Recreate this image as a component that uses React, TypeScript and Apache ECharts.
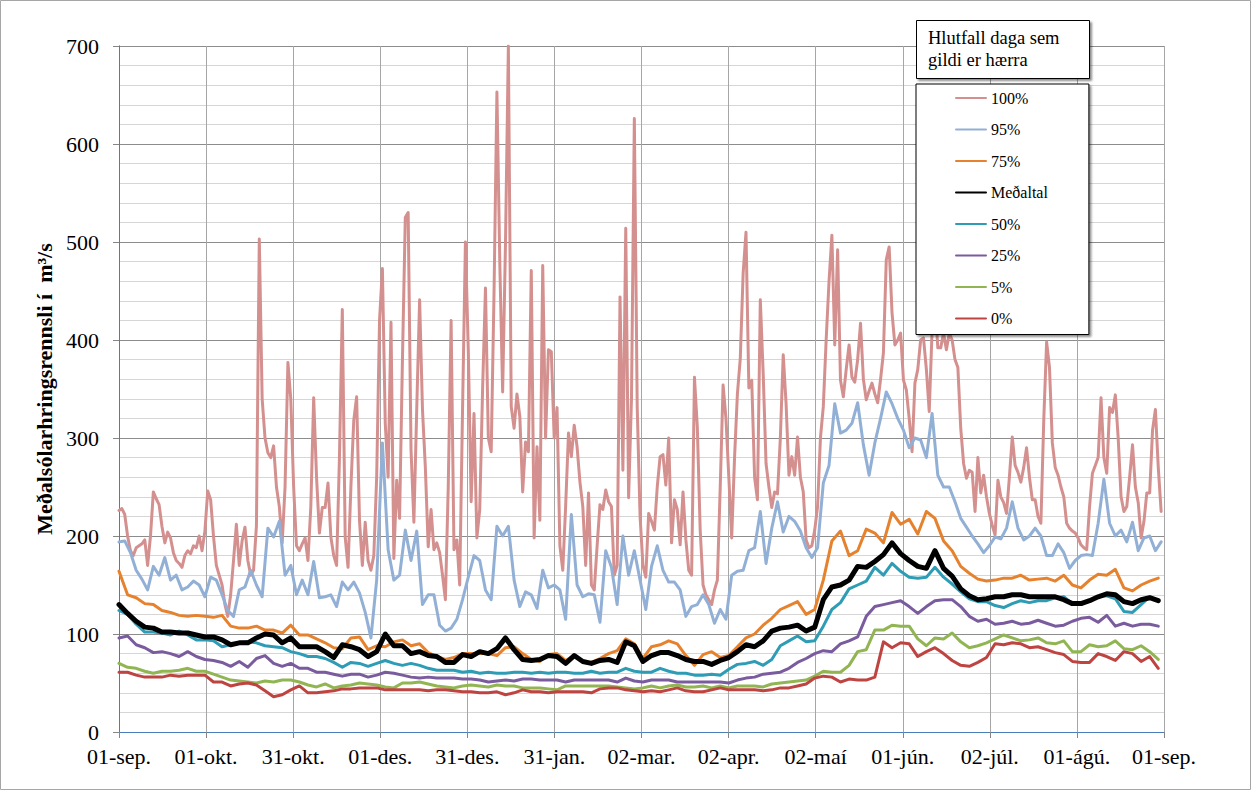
import React, { useEffect, useRef } from "react";
import * as echarts from "echarts";

const tickLabels = ["01-sep.", "01-okt.", "31-okt.", "01-des.", "31-des.", "31-jan.", "02-mar.", "02-apr.", "02-maí", "01-jún.", "02-júl.", "01-ágú.", "01-sep."];
const seriesNames = ["100%", "95%", "75%", "Meðaltal", "50%", "25%", "5%", "0%"];
const seriesColors = ["#d4908e", "#92b0d6", "#e6822e", "#000000", "#2e9cb5", "#7a5c9e", "#92b553", "#be4442"];

// daily values (day 0 = 01-sep)
const p100 = [
  226,228,222,200,185,180,188,190,192,196,
  170,200,245,238,232,210,193,204,198,183,
  175,172,168,180,185,182,190,188,200,185,
  205,246,237,200,170,160,150,130,118,140,
  175,212,170,195,209,175,160,165,210,503,
  340,300,285,280,292,250,230,193,250,377,
  340,250,190,185,192,198,175,230,341,260,
  203,229,229,254,199,180,170,280,431,199,
  168,250,318,342,216,170,214,175,165,180,
  260,420,473,315,260,418,177,257,218,380,
  525,530,288,214,330,441,329,270,189,227,
  186,193,183,160,135,250,420,186,196,150,
  330,500,390,235,325,198,227,350,453,300,
  286,450,653,480,347,500,700,332,310,345,
  322,245,296,286,471,198,291,216,476,300,
  390,388,300,331,190,165,230,305,281,313,
  291,255,230,170,244,150,145,190,232,227,
  247,235,230,160,170,444,267,514,239,340,
  626,332,220,170,158,223,215,206,250,281,
  283,252,300,193,237,227,191,245,196,165,
  160,362,311,206,150,140,135,130,145,155,
  250,354,320,260,198,280,345,381,468,510,
  351,359,260,237,441,366,274,250,229,245,
  243,300,385,335,262,281,262,301,260,245,
  196,188,190,206,230,300,332,400,460,507,
  395,492,359,342,370,395,362,357,380,417,
  360,339,348,356,345,336,360,387,482,495,
  428,395,400,407,359,349,320,286,356,370,
  400,402,370,327,410,440,392,392,407,390,
  407,400,380,372,310,274,259,267,265,225,
  280,244,262,240,223,211,201,257,240,234,
  223,260,301,272,265,255,270,290,260,237,
  237,220,213,318,398,372,295,270,262,250,
  240,213,208,205,203,198,191,188,186,230,
  264,272,280,341,280,264,331,326,344,300,
  240,225,230,260,293,250,234,198,215,244,
  244,308,329,270,225,
];

// every 2nd day
const p95 = [
  194,195,183,165,156,145,169,160,178,155,
  160,145,148,154,150,138,158,155,140,124,
  118,145,148,165,150,138,208,199,215,160,
  170,140,155,140,174,137,138,140,128,153,
  145,153,142,122,96,155,295,186,155,160,
  206,175,205,130,140,140,109,103,106,115,
  135,158,180,175,145,135,210,200,210,155,
  128,143,140,126,165,147,150,145,115,222,
  150,138,141,140,112,185,168,130,200,160,
  185,155,125,169,190,165,153,153,145,118,
  128,130,140,130,111,125,115,160,164,165,
  185,188,225,172,208,235,204,220,215,205,
  188,178,188,254,272,335,305,308,315,336,
  293,262,295,320,347,335,320,308,290,300,
  298,280,325,262,250,250,235,218,209,200,
  192,183,190,199,197,208,235,208,196,200,
  208,200,180,180,192,183,167,175,180,181,
  180,213,258,213,200,206,194,214,185,198,
  200,185,194,
];

// every 3rd day
const p75 = [
  164,140,137,131,130,124,122,119,118,119,
  118,117,119,108,106,106,108,104,104,101,
  109,99,99,95,91,86,85,96,97,84,
  88,87,92,94,88,90,81,77,74,76,
  80,80,80,80,78,86,87,80,74,72,
  79,80,73,78,72,71,75,80,83,95,
  90,75,87,89,93,90,78,68,79,82,
  76,78,87,96,100,109,116,125,129,133,
  120,125,155,195,205,180,185,207,203,193,
  224,212,217,202,225,218,195,185,169,162,
  156,154,155,157,157,160,155,156,157,154,
  160,150,147,155,161,160,166,147,144,150,
  154,157,
];

const mean = [
  130,121,113,107,106,102,102,101,101,99,
  97,97,94,89,91,91,96,100,99,91,
  96,87,87,87,82,76,89,87,84,77,
  82,100,88,88,80,82,78,77,71,71,
  79,77,82,80,85,96,84,74,73,74,
  78,77,70,78,72,70,73,74,71,92,
  88,72,78,81,81,78,74,72,72,69,
  73,76,82,89,87,93,103,106,107,109,
  103,107,135,148,150,155,169,168,174,181,
  193,182,175,169,167,185,167,159,146,139,
  135,136,138,138,140,140,138,138,138,138,
  135,131,131,134,138,141,140,133,131,135,
  137,134,
];

const p50 = [
  124,120,110,102,102,101,99,103,99,94,
  94,93,87,89,91,92,91,88,87,86,
  82,80,77,77,75,71,66,71,70,67,
  70,73,70,68,70,68,65,63,63,63,
  61,62,60,61,60,60,61,61,60,61,
  60,61,61,60,60,62,60,61,61,65,
  62,61,61,65,62,60,60,58,58,59,
  58,64,69,70,72,68,74,88,93,98,
  92,93,108,125,132,146,150,154,168,160,
  172,164,158,157,158,168,158,151,143,136,
  133,133,129,127,131,134,132,134,134,137,
  138,131,130,134,138,139,136,123,122,130,
  138,134,
];

const p25 = [
  96,98,89,86,81,82,80,77,82,77,
  74,73,71,67,72,66,75,78,70,67,
  70,65,65,61,61,59,57,59,59,56,
  58,61,60,58,56,55,56,55,55,55,
  54,54,53,51,52,53,52,54,54,53,
  53,53,51,53,53,53,53,53,51,55,
  52,51,53,53,53,51,51,51,51,51,
  51,50,53,55,56,59,60,61,65,71,
  75,80,83,82,90,93,97,118,128,130,
  132,134,128,121,128,134,135,135,128,118,
  113,115,110,111,113,110,111,114,111,108,
  109,113,116,117,112,119,108,111,108,110,
  110,108,
];

const p5 = [
  70,66,65,62,60,62,62,63,65,62,
  62,59,56,53,52,51,50,52,51,53,
  53,51,48,46,49,45,47,48,50,49,
  48,46,45,50,50,51,49,47,46,45,
  47,48,47,46,48,47,47,45,45,45,
  44,43,47,47,47,47,47,47,46,45,
  44,45,47,45,47,48,46,46,47,45,
  47,45,47,47,47,46,49,50,51,52,
  53,57,62,61,61,68,82,84,104,104,
  109,108,108,95,88,96,95,101,92,86,
  88,91,95,99,96,93,94,96,91,90,
  93,82,82,89,87,88,93,85,84,88,
  82,74,
];

const p0 = [
  61,61,58,56,56,56,58,57,58,58,
  58,51,51,47,49,50,48,42,36,38,
  43,47,40,40,41,42,44,44,45,45,
  45,43,43,43,43,43,42,43,43,42,
  41,41,40,40,41,38,40,43,41,41,
  40,41,41,41,41,40,44,45,45,43,
  42,41,42,41,43,45,42,41,41,43,
  45,43,43,43,43,42,43,45,45,47,
  49,55,57,56,51,54,53,53,56,92,
  86,91,90,77,82,86,80,73,68,67,
  71,76,90,89,91,90,86,87,84,81,
  79,72,71,71,80,77,73,82,80,72,
  77,65,
];

const seriesValues = [p100, p95, p75, mean, p50, p25, p5, p0];
const seriesSteps = [1, 2, 3, 3, 3, 3, 3, 3];

const DAYS = 365;
const TICK = DAYS / 12;
const FONT = '"Liberation Serif", "Times New Roman", serif';

export default function App() {
  const ref = useRef<HTMLDivElement>(null);

  useEffect(() => {
    if (!ref.current) return;
    const chart = echarts.init(ref.current, undefined, { renderer: "svg" });

    const order = [0, 1, 2, 4, 5, 6, 7, 3]; // mean drawn on top
    const series = order.map((k) => ({
      name: seriesNames[k],
      type: "line",
      symbol: "none",
      showSymbol: false,
      data: seriesValues[k].map((v, i) => [i * seriesSteps[k], v]),
      lineStyle: {
        color: seriesColors[k],
        width: k === 3 ? 5 : 3,
        join: "round",
        cap: "round",
      },
      itemStyle: { color: seriesColors[k] },
      emphasis: { disabled: true },
      z: k === 3 ? 3 : 2,
    }));

    chart.setOption({
      animation: false,
      backgroundColor: "#ffffff",
      textStyle: { fontFamily: FONT },
      grid: { left: 119, right: 91, top: 46, bottom: 62, containLabel: false },
      xAxis: [
        {
          type: "value",
          min: 0,
          max: DAYS,
          interval: TICK,
          axisLine: { show: true, lineStyle: { color: "#868686", width: 1 } },
          axisTick: { show: true, length: 6, lineStyle: { color: "#868686" } },
          axisLabel: {
            formatter: (v: number) => tickLabels[Math.round(v / TICK)] ?? "",
            fontFamily: FONT,
            fontSize: 22,
            color: "#000",
            margin: 13,
            showMinLabel: true,
            showMaxLabel: true,
          },
          splitLine: { show: true, lineStyle: { color: "#a6a6a6", width: 1 } },
        },
        {
          type: "value",
          position: "top",
          min: 0,
          max: DAYS,
          interval: TICK,
          axisLine: { show: true, lineStyle: { color: "#4a7ebb", width: 1 } },
          axisTick: { show: false },
          axisLabel: { show: false },
          splitLine: { show: false },
        },
      ],
      yAxis: [
        {
          type: "value",
          min: 0,
          max: 700,
          interval: 100,
          name: "Meðalsólarhringsrennsli í  m³/s",
          nameLocation: "middle",
          nameGap: 63,
          nameRotate: 90,
          nameTextStyle: { fontFamily: FONT, fontSize: 22, fontWeight: "bold", color: "#000" },
          axisLine: { show: true, lineStyle: { color: "#868686", width: 1 } },
          axisTick: { show: true, length: 6, lineStyle: { color: "#868686" } },
          axisLabel: { fontFamily: FONT, fontSize: 22, color: "#000", margin: 20 },
          splitLine: { show: true, lineStyle: { color: "#8c8c8c", width: 1 } },
          minorTick: { show: false, splitNumber: 5 },
          minorSplitLine: { show: true, lineStyle: { color: "#d6d6d6", width: 1 } },
        },
        {
          type: "value",
          position: "right",
          min: 0,
          max: 700,
          interval: 100,
          axisLine: { show: true, lineStyle: { color: "#4a7ebb", width: 1 } },
          axisTick: { show: false },
          axisLabel: { show: false },
          splitLine: { show: false },
        },
      ],
      legend: {
        data: seriesNames,
        orient: "vertical",
        left: 916,
        top: 84,
        padding: [6, 41, 8, 39],
        itemWidth: 30,
        itemHeight: 16,
        itemGap: 15.5,
        itemStyle: { opacity: 0 },
        backgroundColor: "#ffffff",
        borderColor: "#000000",
        borderWidth: 1,
        shadowColor: "rgba(0,0,0,0.45)",
        shadowBlur: 2,
        shadowOffsetX: 2,
        shadowOffsetY: 2,
        selectedMode: false,
        textStyle: { fontFamily: FONT, fontSize: 16, color: "#000", lineHeight: 16 },
      },
      graphic: [
        {
          type: "rect",
          shape: { x: 0.5, y: 0.5, width: 1250, height: 789 },
          style: { fill: "none", stroke: "#a6a6a6", lineWidth: 1 },
          silent: true,
          z: -10,
        },
        {
          type: "rect",
          shape: { x: 916.5, y: 20.5, width: 173, height: 58 },
          style: {
            fill: "#ffffff",
            stroke: "#000000",
            lineWidth: 1,
            shadowColor: "rgba(0,0,0,0.45)",
            shadowBlur: 2,
            shadowOffsetX: 2,
            shadowOffsetY: 2,
          },
          silent: true,
          z: 10,
        },
        {
          type: "text",
          x: 928,
          y: 38,
          style: { text: "Hlutfall daga sem", font: `18.5px ${FONT}`, fill: "#000", verticalAlign: "middle" },
          silent: true,
          z: 11,
        },
        {
          type: "text",
          x: 928,
          y: 60,
          style: { text: "gildi er hærra", font: `18.5px ${FONT}`, fill: "#000", verticalAlign: "middle" },
          silent: true,
          z: 11,
        },
      ],
      series,
    });

    return () => chart.dispose();
  }, []);

  return (
    <div
      ref={ref}
      style={{ position: "fixed", left: 0, top: 0, width: 1255, height: 794, background: "#fff" }}
    />
  );
}
